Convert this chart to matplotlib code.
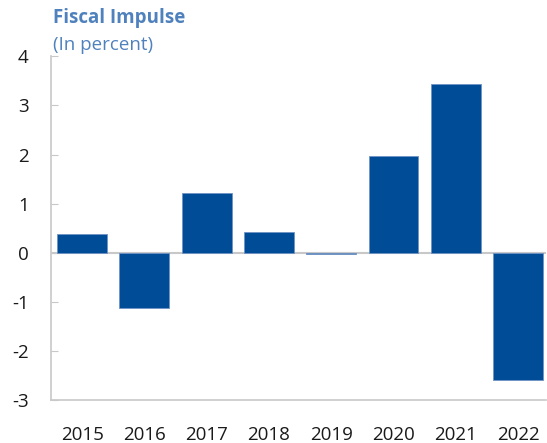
import matplotlib
matplotlib.use("Agg")
import matplotlib.pyplot as plt

years = ["2015", "2016", "2017", "2018", "2019", "2020", "2021", "2022"]
values = [0.39, -1.13, 1.21, 0.42, -0.02, 1.96, 3.44, -2.59]
yticks = [-3, -2, -1, 0, 1, 2, 3, 4]

plt.rcParams['font.family'] = ['Open Sans', 'DejaVu Sans']

fig = plt.figure(figsize=(5.47, 4.43), dpi=100)
ax = fig.add_axes([51/547, 1 - 400/443, (546 - 51)/547, (400 - 56.3)/443])

x = list(range(len(years)))
ax.bar(x, values, width=0.8, color="#004C97", edgecolor="#6F93C4", linewidth=0.6, zorder=3)
ax.axhline(0, color="#C8C8C8", linewidth=1.5, zorder=2)

ax.set_xlim(-0.5, 7.45)
ax.set_ylim(-3, 4)
ax.set_yticks(yticks)
ax.set_yticklabels([str(v) for v in yticks])
ax.set_xticks(x)
ax.set_xticklabels(years)

for s in ["top", "right"]:
    ax.spines[s].set_visible(False)
for s in ["left", "bottom"]:
    ax.spines[s].set_color("#C8C8C8")
    ax.spines[s].set_linewidth(1.2)

ax.tick_params(axis="y", length=5, direction="in", color="#C8C8C8", labelsize=13.5, pad=16, labelcolor="#1A1A1A")
ax.tick_params(axis="x", length=0, labelsize=13.5, pad=19, labelcolor="#1A1A1A")

fig.text(53/547, 1 - 18.5/443, "Fiscal Impulse", fontsize=13.5, fontweight="bold", color="#4F81BD", va="center", ha="left")
fig.text(53/547, 1 - 45/443, "(In percent)", fontsize=13.5, color="#4F81BD", va="center", ha="left")

fig.savefig("out.png", dpi=100)
